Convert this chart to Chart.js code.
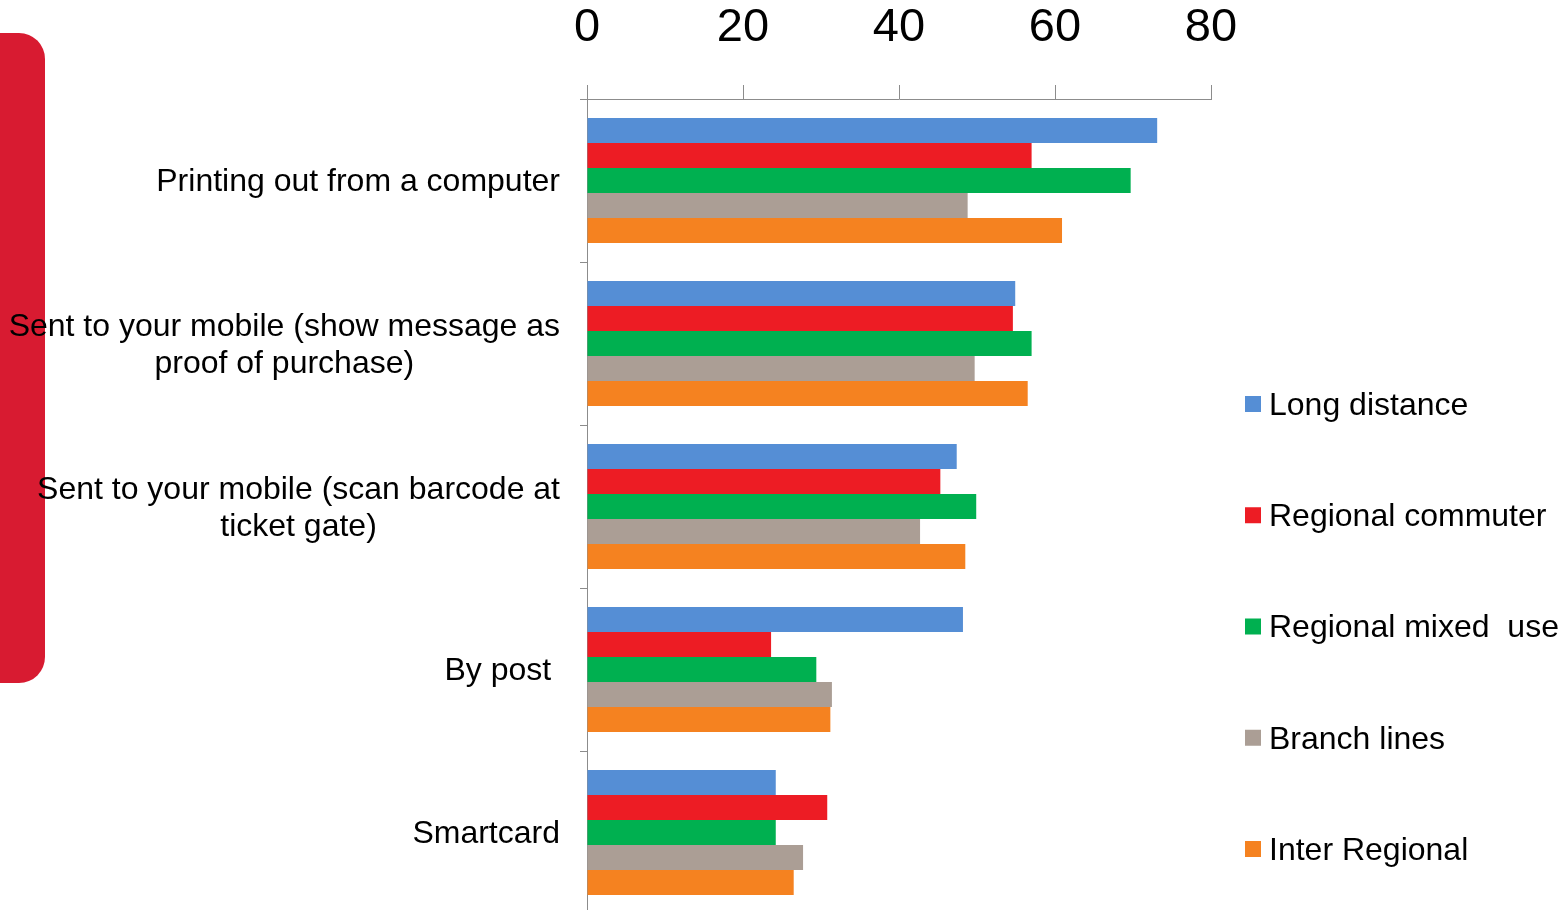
<!DOCTYPE html>
<html>
<head>
<meta charset="utf-8">
<script src="https://cdn.jsdelivr.net/npm/chart.js@4"></script>
<style>
  html, body { margin: 0; padding: 0; background: #fff; overflow: hidden; }
  #wrap { position: relative; width: 1562px; height: 920px; }
  #tab { position: absolute; left: -40px; top: 33px; width: 85px; height: 650px;
         background: #d81b31; border-radius: 0 26px 26px 0; }
  #chartBox { position: absolute; left: 0; top: 0; width: 1562px; height: 920px; }
</style>
</head>
<body>
<div id="wrap">
  <div id="tab"></div>
  <div id="chartBox"><canvas id="chart"></canvas></div>
</div>
<script>
const categories = [
    'Printing out from a computer',
    ['Sent to your mobile (show message as', 'proof of purchase)'],
    ['Sent to your mobile (scan barcode at', 'ticket gate)'],
    'By post ',
    'Smartcard'
];
const seriesNames = ['Long distance', 'Regional commuter', 'Regional mixed  use', 'Branch lines', 'Inter Regional'];
const seriesColors = ['#558ed5', '#ed1c24', '#00b050', '#ab9e95', '#f58220'];

const longDistance = [73.1, 54.9, 47.4, 48.2, 24.2];
const regionalCommuter = [57.0, 54.6, 45.3, 23.6, 30.8];
const regionalMixedUse = [69.7, 57.0, 49.9, 29.4, 24.2];
const branchLines = [48.8, 49.7, 42.7, 31.4, 27.7];
const interRegional = [60.9, 56.5, 48.5, 31.2, 26.5];

const xTicks = [0, 20, 40, 60, 80];

const seriesValues = [longDistance, regionalCommuter, regionalMixedUse, branchLines, interRegional];
const FONT = '"Liberation Sans", Arial, sans-serif';
const axisGrey = '#8c8c8c';

// category labels: block right-aligned, lines centred within the block
const categoryLabels = {
    id: 'categoryLabels',
    afterDraw(chart) {
        const yScale = chart.scales.y;
        const ctx = chart.ctx;
        ctx.save();
        ctx.font = '32px ' + FONT;
        ctx.fillStyle = '#000';
        ctx.textBaseline = 'middle';
        ctx.textAlign = 'center';
        const right = yScale.right - 27;
        categories.forEach((label, i) => {
            const lines = Array.isArray(label) ? label : [label];
            const blockWidth = Math.max(...lines.map(l => ctx.measureText(l).width));
            const cx = right - blockWidth / 2;
            const yc = yScale.getPixelForValue(i) + 2;
            lines.forEach((line, j) => {
                ctx.fillText(line, cx, yc + (j - (lines.length - 1) / 2) * 37);
            });
        });
        ctx.restore();
    }
};

// legend on the right, one item per series
const sideLegend = {
    id: 'sideLegend',
    afterDraw(chart) {
        const ctx = chart.ctx;
        ctx.save();
        ctx.font = '32px ' + FONT;
        ctx.textBaseline = 'middle';
        ctx.textAlign = 'left';
        chart.data.datasets.forEach((ds, i) => {
            const y = 404 + i * 111.25;
            ctx.fillStyle = ds.backgroundColor;
            ctx.fillRect(1245, y - 8, 16, 16);
            ctx.fillStyle = '#000';
            ctx.fillText(ds.label, 1269, y + 2);
        });
        ctx.restore();
    }
};

new Chart(document.getElementById('chart'), {
    type: 'bar',
    data: {
        labels: categories,
        datasets: seriesNames.map((name, i) => ({
            label: name,
            data: seriesValues[i],
            backgroundColor: seriesColors[i],
            borderWidth: 0,
            categoryPercentage: 0.767,
            barPercentage: 1.0
        }))
    },
    options: {
        indexAxis: 'y',
        responsive: true,
        maintainAspectRatio: false,
        animation: false,
        layout: { padding: { left: 0, right: 351, top: 0, bottom: 6 } },
        plugins: {
            legend: { display: false },
            tooltip: { enabled: false }
        },
        scales: {
            x: {
                position: 'top',
                min: 0,
                max: 80,
                afterBuildTicks(scale) {
                    scale.ticks = xTicks.map(v => ({ value: v }));
                },
                afterFit(scale) { scale.height = 99; },
                border: { color: axisGrey, width: 1 },
                grid: { drawOnChartArea: false, drawTicks: true, tickLength: 14, color: axisGrey },
                ticks: {
                    color: '#000',
                    padding: 29,
                    font: { family: FONT, size: 47 }
                }
            },
            y: {
                afterFit(scale) { scale.width = 587; },
                border: { color: axisGrey, width: 1 },
                grid: { offset: true, drawOnChartArea: false, drawTicks: true, tickLength: 7, color: axisGrey },
                ticks: { display: false }
            }
        }
    },
    plugins: [categoryLabels, sideLegend]
});
</script>
</body>
</html>
